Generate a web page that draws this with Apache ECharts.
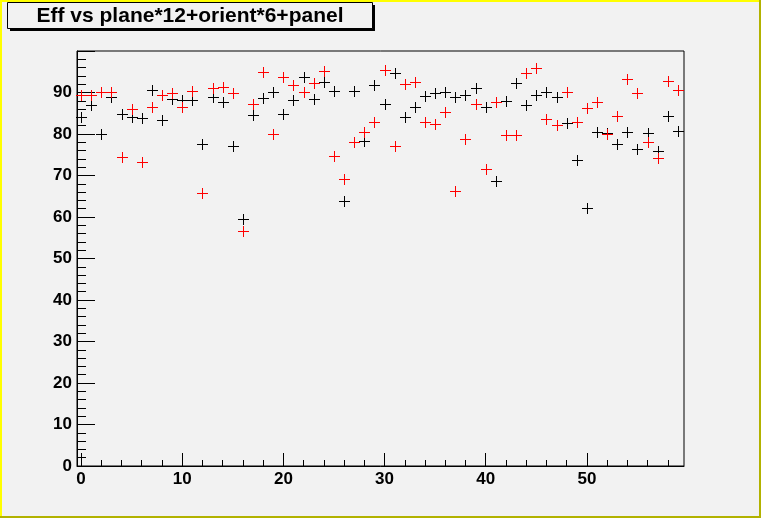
<!DOCTYPE html>
<html>
<head>
<meta charset="utf-8">
<script src="https://cdn.jsdelivr.net/npm/echarts@6/dist/echarts.min.js"></script>
<style>
html,body{margin:0;padding:0;background:#f2f2f2;}
#c{width:761px;height:518px;}
</style>
</head>
<body>
<div id="c"></div>
<script>
// index = plane*12+orient*6+panel
const xIndex = [0,1,2,3,4,5,6,7,8,9,10,11,12,13,14,15,16,17,18,19,20,21,22,23,24,25,26,27,28,29,
  30,31,32,33,34,35,36,37,38,39,40,41,42,43,44,45,46,47,48,49,50,51,52,53,54,55,56,57,58,59];
const effBlack = [84.0,87.0,80.0,89.0,84.8,84.2,83.8,90.5,83.3,88.4,88.2,88.2,77.5,89.0,87.6,77.1,59.4,84.6,88.6,90.2,
  84.8,88.1,93.7,88.5,92.5,90.4,63.9,90.4,78.3,91.8,87.3,94.7,84.2,86.4,89.1,89.8,90.2,88.9,89.4,91.1,
  86.5,68.6,88.0,92.3,87.1,89.4,90.0,88.9,82.6,73.7,62.1,80.6,80.2,77.6,80.6,76.5,80.3,76.0,84.4,80.7];
const effRed = [89.3,89.4,90.0,90.2,74.5,86.1,73.3,86.5,89.4,89.8,86.6,90.4,65.7,91.0,91.3,89.8,56.7,87.3,94.9,80.0,
  93.7,91.8,90.1,92.4,95.1,74.8,69.1,78.0,80.6,83.0,95.5,77.2,92.1,92.6,83.0,82.4,85.3,66.3,78.8,87.2,
  71.6,87.8,79.7,79.7,94.8,95.9,83.5,82.2,90.2,82.8,86.2,87.8,80.1,84.4,93.3,89.8,78.0,74.2,92.7,90.5];
const xMajorTicks = [0,10,20,30,40,50];
const xMinorTicks = [2,4,6,8,12,14,16,18,22,24,26,28,32,34,36,38,42,44,46,48,52,54,56,58];
const yTickLabels = [0,10,20,30,40,50,60,70,80,90];
const titleText = 'Eff vs plane*12+orient*6+panel';

const chart = echarts.init(document.getElementById('c'), null, {renderer:'canvas'});

function pairs(ys){ return xIndex.map((x,i)=>[x, ys[i]]); }

function plusRender(color){
  return function(params, api){
    const p = api.coord([api.value(0), api.value(1)]);
    const cx = Math.round(p[0]), cy = Math.round(p[1]);
    return {
      type:'group',
      children:[
        {type:'rect', shape:{x:cx-5, y:cy, width:11, height:1}, style:{fill:color}},
        {type:'rect', shape:{x:cx, y:cy-5, width:1, height:11}, style:{fill:color}}
      ]
    };
  };
}

const labelFont = {fontFamily:'"Liberation Sans", Arial, sans-serif', fontWeight:'bold', fontSize:17, color:'#000'};

chart.setOption({
  animation:false,
  backgroundColor:'#f2f2f2',
  grid:{left:77, right:77, top:51, bottom:52, show:true, borderColor:'#000', borderWidth:1, backgroundColor:'#f2f2f2'},
  xAxis:[{
    type:'value', min:-0.4, max:59.6, position:'bottom',
    axisLine:{show:true, onZero:false, lineStyle:{color:'#000', width:1}},
    axisTick:{show:true, inside:true, length:13, customValues:xMajorTicks, lineStyle:{color:'#000', width:1}},
    axisLabel:Object.assign({show:true, margin:5, customValues:xMajorTicks}, labelFont),
    splitLine:{show:false}
  },{
    type:'value', min:-0.4, max:59.6, position:'bottom',
    axisLine:{show:false},
    axisTick:{show:true, inside:true, length:6, customValues:xMinorTicks, lineStyle:{color:'#000', width:1}},
    axisLabel:{show:false},
    splitLine:{show:false}
  }],
  yAxis:{
    type:'value', min:0, max:100, interval:10,
    axisLine:{show:true, onZero:false, lineStyle:{color:'#000', width:1}},
    axisTick:{show:true, inside:true, length:18, lineStyle:{color:'#000', width:1}},
    minorTick:{show:true, splitNumber:5, length:9, lineStyle:{color:'#000', width:1}},
    axisLabel:Object.assign({show:true, margin:5, customValues:yTickLabels}, labelFont),
    splitLine:{show:false}
  },
  series:[
    {type:'custom', name:'black', xAxisIndex:0, data:pairs(effBlack), renderItem:plusRender('#000000'), z:3},
    {type:'custom', name:'red', xAxisIndex:0, data:pairs(effRed), renderItem:plusRender('#ff0000'), z:4}
  ],
  graphic:[
    {type:'rect', shape:{x:10, y:5, width:365, height:26}, style:{fill:'#000'}, z:10},
    {type:'rect', shape:{x:7.5, y:2.5, width:365, height:26}, style:{fill:'#f2f2f2', stroke:'#000', lineWidth:1}, z:11},
    {type:'text', x:190, y:16, style:{text:titleText, textAlign:'center', textVerticalAlign:'middle',
      font:'bold 21px "Liberation Sans", Arial, sans-serif', fill:'#000'}, z:12},
    {type:'rect', shape:{x:0, y:0, width:761, height:2}, style:{fill:'#ffff00'}, z:20},
    {type:'rect', shape:{x:0, y:0, width:2, height:518}, style:{fill:'#ffff00'}, z:20},
    {type:'rect', shape:{x:759, y:0, width:2, height:518}, style:{fill:'#b2b200'}, z:21},
    {type:'rect', shape:{x:0, y:516, width:761, height:2}, style:{fill:'#b2b200'}, z:21}
  ]
});
</script>
</body>
</html>
